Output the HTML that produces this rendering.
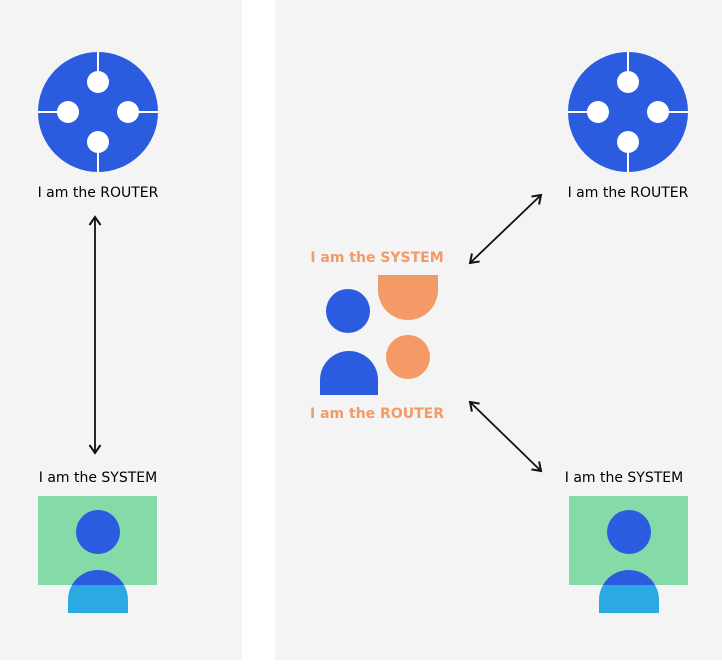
<!DOCTYPE html>
<html><head><style>
body{margin:0;width:722px;height:660px;overflow:hidden;background:#fff}
text{font-family:"DejaVu Sans","Liberation Sans",sans-serif;font-size:14px;text-anchor:middle}
</style></head><body>
<svg width="722" height="660" viewBox="0 0 722 660">
<defs><marker id="a" markerWidth="14" markerHeight="14" refX="10" refY="7" orient="auto-start-reverse" markerUnits="userSpaceOnUse"><path d="M2,1.5 L10,7 L2,12.5" fill="none" stroke="#111" stroke-width="2"/></marker>
<g id="r"><circle r="60" fill="#2b5ce0"/><path d="M0,-60V-30M0,60V30M-60,0H-30M60,0H30" stroke="#fff" stroke-width="2"/>
<circle cx="0" cy="-30" r="11" fill="#fff"/><circle cx="0" cy="30" r="11" fill="#fff"/><circle cx="-30" cy="0" r="11" fill="#fff"/><circle cx="30" cy="0" r="11" fill="#fff"/></g>
<g id="s"><rect x="-60" y="0" width="119" height="89" fill="#84dba7"/><circle cx="0" cy="36" r="22" fill="#2b5ce0"/>
<path d="M-30,104 A30,30 0 0 1 30,104 V117 H-30Z" fill="#2aa9e2"/>
<clipPath id="c"><rect x="-60" y="0" width="119" height="89"/></clipPath>
<path d="M-30,104 A30,30 0 0 1 30,104 V117 H-30Z" fill="#2b5ce0" clip-path="url(#c)"/></g></defs>
<rect x="0" y="0" width="242" height="660" fill="#f4f4f4"/>
<rect x="275" y="0" width="447" height="660" fill="#f4f4f4"/>
<use href="#r" x="98" y="112"/><use href="#r" x="628" y="112"/>
<text x="98" y="197">I am the ROUTER</text>
<text x="628" y="197">I am the ROUTER</text>
<text x="98" y="482">I am the SYSTEM</text>
<text x="624" y="482">I am the SYSTEM</text>
<use href="#s" x="98" y="496"/><use href="#s" x="629" y="496"/>
<line x1="95" y1="217" x2="95" y2="453" stroke="#111" stroke-width="1.8" marker-start="url(#a)" marker-end="url(#a)"/>
<line x1="470" y1="263" x2="541" y2="195" stroke="#111" stroke-width="1.8" marker-start="url(#a)" marker-end="url(#a)"/>
<line x1="470" y1="402" x2="541" y2="471" stroke="#111" stroke-width="1.8" marker-start="url(#a)" marker-end="url(#a)"/>
<text x="377" y="262" fill="#f39a66" font-weight="bold">I am the SYSTEM</text>
<text x="377" y="418" fill="#f39a66" font-weight="bold">I am the ROUTER</text>
<path d="M378,275 H438 V290 A30,30 0 0 1 378,290Z" fill="#f39a66"/>
<circle cx="348" cy="311" r="22" fill="#2b5ce0"/>
<path d="M320,380 A29,29 0 0 1 378,380 V395 H320Z" fill="#2b5ce0"/>
<circle cx="408" cy="357" r="22" fill="#f39a66"/>
</svg>
</body></html>
